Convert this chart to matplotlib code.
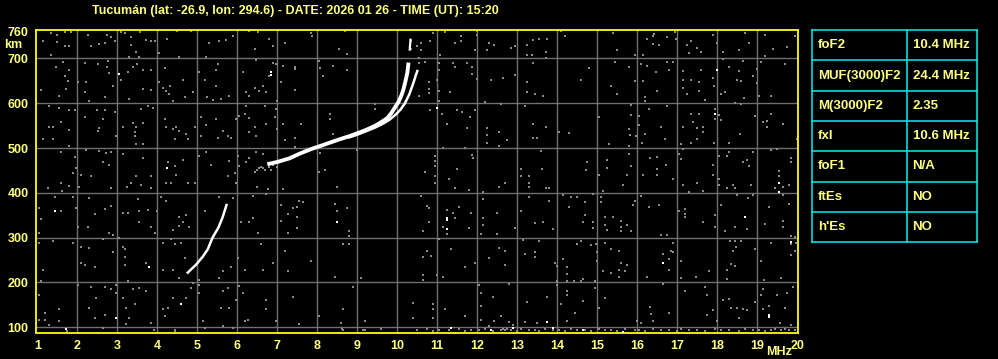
import matplotlib
matplotlib.use("Agg")
import matplotlib.pyplot as plt

plt.rcParams['font.family'] = ['Liberation Sans', 'DejaVu Sans']
plt.rcParams['font.weight'] = 'bold'

title = "Tucumán (lat: -26.9, lon: 294.6) - DATE: 2026 01 26 - TIME (UT): 15:20"

freq_ticks = list(range(1, 21))
height_ticks = [100, 200, 300, 400, 500, 600, 700, 760]

# F2 traces (ordinary / extraordinary), MHz vs km
o_mhz = [6.75, 7.0, 7.3, 7.57, 7.85, 8.15, 8.5, 8.78, 9.0, 9.23, 9.45, 9.6, 9.75,
         9.85, 9.95, 10.03, 10.1, 10.15, 10.2, 10.25, 10.28]
o_km = [464, 469, 477, 488, 498, 507, 518, 526, 533, 541, 550, 558, 567,
        578, 592, 603, 617, 630, 648, 668, 691]
o_top_mhz = [10.31, 10.33]
o_top_km = [720, 742]
x_mhz = [8.8, 9.0, 9.2, 9.45, 9.65, 9.8, 9.95, 10.08, 10.19, 10.3, 10.4, 10.46, 10.5]
x_km = [524, 530, 537, 546, 555, 563, 574, 586, 600, 620, 645, 662, 672]
# lower trace
f1_mhz = [4.76, 4.97, 5.13, 5.26, 5.38, 5.53, 5.63, 5.73]
f1_km = [222, 240, 257, 274, 300, 323, 345, 373]

# background echoes (gray)
noise_a = [(1.13, 740), (1.34, 757), (1.49, 753), (1.68, 760), (1.84, 760), (1.48, 736), (1.70, 729),
           (1.80, 727), (2.26, 753), (2.34, 729), (2.55, 732), (2.73, 753), (2.84, 747), (2.68, 735),
           (2.93, 740), (3.09, 760), (3.20, 757), (3.34, 747), (3.57, 760), (3.34, 730), (3.72, 742),
           (3.84, 740), (3.94, 740), (3.47, 714), (3.55, 703), (4.05, 712), (4.23, 744), (4.48, 762),
           (4.84, 762), (5.30, 735), (5.55, 738), (5.72, 742), (5.88, 750), (6.30, 762), (6.51, 760),
           (6.80, 744), (6.90, 729), (7.18, 735), (1.34, 708), (6.43, 721), (4.55, 703), (5.22, 703),
           (3.30, 703), (1.63, 693), (1.47, 682), (1.80, 675), (1.68, 662), (1.76, 650), (1.72, 632),
           (1.09, 630), (1.55, 617), (2.20, 691), (2.01, 648), (2.22, 647), (2.20, 626), (2.30, 606),
           (2.51, 688), (2.76, 695), (2.73, 682), (2.78, 668), (2.68, 613), (2.88, 639), (3.26, 669),
           (3.38, 682), (3.48, 688), (3.63, 675), (3.84, 675), (3.09, 653), (3.30, 609), (3.63, 632),
           (3.84, 630), (4.05, 648), (4.13, 635), (4.22, 628), (4.32, 638), (4.30, 621), (4.38, 606),
           (4.63, 653), (4.68, 613), (4.19, 678), (4.88, 626), (5.05, 670), (5.18, 653), (5.51, 688),
           (5.47, 675), (5.47, 638), (5.23, 613), (5.38, 608), (5.59, 609), (5.78, 617), (6.13, 670),
           (6.22, 626), (6.30, 617), (6.43, 635), (6.55, 628), (6.63, 639), (6.72, 626), (6.80, 662),
           (6.97, 688), (7.13, 684), (7.09, 647), (6.98, 606), (6.47, 697), (6.88, 691)]
noise_b = [(1.28, 594), (1.53, 590), (1.78, 585), (1.95, 585), (2.20, 570), (2.48, 585), (2.68, 585),
           (2.93, 581), (1.59, 559), (1.30, 548), (1.40, 548), (1.80, 541), (1.13, 520), (1.40, 520),
           (1.78, 505), (2.55, 544), (2.63, 566), (2.51, 538), (2.97, 527), (3.13, 548), (3.38, 557),
           (3.47, 548), (3.43, 536), (3.65, 556), (3.59, 587), (3.76, 593), (3.88, 590), (3.45, 527),
           (3.47, 509), (3.63, 509), (4.18, 566), (4.22, 548), (4.47, 548), (4.38, 542), (4.55, 538),
           (4.72, 531), (4.43, 520), (4.76, 520), (4.93, 548), (5.09, 570), (5.22, 551), (5.09, 527),
           (5.47, 566), (5.51, 523), (5.63, 538), (5.76, 526), (5.84, 523), (5.97, 566), (6.05, 572),
           (6.18, 576), (6.30, 568), (6.43, 548), (6.47, 526), (6.30, 536), (6.68, 594), (6.72, 553),
           (6.93, 570), (6.97, 587), (6.98, 542), (7.13, 553), (7.18, 518), (6.22, 594),
           (1.59, 491), (1.93, 481), (1.97, 456), (1.88, 445), (2.09, 439), (2.34, 438), (2.22, 496),
           (2.55, 494), (2.72, 490), (2.84, 491), (2.63, 468), (2.80, 462), (3.13, 486), (3.47, 438),
           (3.63, 479), (3.84, 438), (4.26, 469), (4.43, 460), (4.47, 441), (4.63, 473), (5.05, 482),
           (5.22, 491), (5.34, 462), (5.76, 438), (5.80, 471), (6.01, 482), (6.05, 460), (5.93, 445),
           (6.22, 469), (6.30, 479), (6.47, 491), (6.63, 486), (6.45, 447), (6.5, 452), (6.55, 455),
           (6.6, 458), (6.65, 455), (6.7, 450), (6.8, 458), (6.85, 452), (6.9, 462), (7.0, 458)]
noise_c = [(1.59, 423), (1.80, 416), (1.62, 405), (1.26, 411), (2.03, 414), (2.84, 411), (3.23, 414),
           (3.34, 421), (3.59, 418), (3.84, 411), (4.22, 423), (4.34, 421), (4.76, 423), (4.95, 421),
           (5.97, 423), (6.48, 414), (6.76, 408), (7.13, 408), (1.45, 391), (1.88, 390), (1.97, 367),
           (1.03, 367), (1.09, 341), (1.59, 360), (2.30, 388), (2.43, 352), (2.68, 364), (2.84, 371),
           (3.13, 356), (3.26, 356), (3.51, 386), (3.53, 360), (3.76, 361), (3.98, 360), (3.55, 334),
           (3.84, 323), (3.93, 311), (4.09, 390), (4.22, 382), (4.55, 346), (4.63, 336), (4.72, 351),
           (4.38, 317), (4.53, 326), (4.80, 323), (5.18, 360), (5.55, 391), (5.88, 388), (6.38, 393),
           (6.72, 397), (7.09, 373), (7.26, 352), (6.09, 334), (6.30, 334), (6.51, 311), (6.38, 343),
           (7.09, 337), (7.26, 311), (1.05, 311), (2.01, 324), (2.26, 324), (2.80, 311), (2.88, 306),
           (2.63, 296), (3.05, 299), (1.05, 289), (1.38, 293), (1.88, 289), (2.09, 279), (2.09, 244),
           (2.18, 240), (2.30, 278), (2.43, 235), (3.13, 279), (3.18, 274), (2.90, 267), (3.20, 257),
           (3.18, 240), (3.72, 244), (4.13, 289), (4.43, 287), (4.59, 289), (4.34, 296), (4.68, 255),
           (4.13, 227), (4.38, 227), (1.13, 227), (3.26, 203), (1.09, 203), (4.55, 211), (5.05, 205),
           (5.30, 282), (5.55, 211), (5.63, 226), (5.84, 235), (6.01, 255), (6.18, 229), (6.59, 285),
           (6.63, 227), (6.88, 244), (7.18, 270), (7.26, 226)]
noise_d = [(1.05, 173), (2.01, 194), (2.34, 190), (2.47, 166), (2.68, 190), (2.84, 185), (2.97, 194),
           (2.97, 177), (3.38, 185), (3.55, 188), (3.72, 181), (3.43, 152), (3.13, 166), (3.22, 143),
           (2.30, 142), (2.68, 127), (2.43, 121), (3.30, 121), (2.63, 99), (3.22, 108), (3.84, 110),
           (4.13, 140), (4.26, 143), (4.18, 125), (4.38, 166), (4.84, 187), (4.72, 166), (4.88, 199),
           (5.03, 194), (5.05, 177), (5.13, 114), (5.63, 181), (5.76, 188), (5.80, 143), (6.05, 192),
           (6.13, 177), (5.59, 143), (5.97, 160), (6.18, 114), (6.26, 117), (6.72, 162), (6.72, 140),
           (6.97, 114), (1.18, 132), (1.30, 106), (1.05, 117), (1.18, 117), (1.55, 140), (1.55, 114),
           (4.43, 95), (5.18, 99), (5.63, 102), (5.88, 99), (1.75, 92), (3.92, 93), (4.45, 91)]
noise_e = [(7.83, 757), (7.86, 750), (7.44, 680), (7.44, 676), (7.44, 630), (8.13, 660), (8.05, 695),
           (8.07, 678), (8.38, 684), (8.55, 721), (8.73, 710), (8.73, 675), (8.32, 576), (8.32, 566),
           (7.58, 553), (7.44, 523), (7.44, 503), (8.07, 490), (8.03, 447), (8.19, 451), (8.40, 531),
           (8.98, 496), (8.69, 762), (9.44, 598), (9.44, 588), (10.33, 740), (10.33, 721), (10.48, 729),
           (10.58, 735), (10.58, 718), (10.53, 700), (10.54, 691), (10.69, 693), (10.82, 740),
           (10.90, 757), (11.07, 708), (11.19, 760), (11.03, 691), (11.03, 675), (10.98, 653),
           (11.03, 628), (11.05, 606), (11.11, 576), (11.23, 553), (11.32, 626), (10.78, 648),
           (10.78, 633), (10.78, 624), (10.82, 585), (10.53, 617), (11.58, 751), (11.58, 740),
           (11.44, 735), (11.98, 762), (11.98, 753), (11.94, 718), (12.30, 735), (12.42, 730),
           (12.23, 718), (12.83, 723), (12.94, 727), (13.25, 730), (13.38, 742), (13.53, 744),
           (13.23, 708), (13.36, 708), (13.40, 691), (11.38, 690), (11.44, 680), (11.73, 691),
           (11.86, 680), (11.86, 665), (11.98, 654), (12.33, 653), (12.63, 656), (12.94, 663),
           (13.23, 648), (13.23, 626), (13.44, 621), (13.63, 617), (12.18, 603), (12.58, 598),
           (13.19, 594), (13.38, 553), (13.38, 523), (13.48, 523), (13.58, 494), (11.48, 585),
           (11.61, 581), (11.82, 570), (11.94, 585), (11.73, 544), (12.23, 544), (12.25, 529),
           (12.25, 512), (12.53, 535), (12.55, 505), (12.73, 518), (11.13, 501), (11.86, 484),
           (11.90, 477), (10.94, 482), (10.94, 471), (10.94, 459), (10.94, 438), (11.30, 432),
           (11.48, 453), (11.69, 501), (13.09, 454), (13.09, 438), (13.28, 438), (13.61, 454),
           (10.69, 447)]
noise_f = [(13.73, 744), (14.08, 762), (14.18, 750), (13.71, 715), (13.71, 700), (13.71, 546),
           (14.04, 536), (14.29, 533), (14.58, 653), (14.79, 679), (15.40, 757), (15.48, 720),
           (15.43, 693), (15.33, 639), (15.48, 621), (15.79, 680), (15.93, 650), (15.93, 708),
           (16.15, 708), (16.10, 688), (16.15, 650), (16.23, 684), (16.19, 613), (16.19, 606),
           (16.38, 751), (16.42, 755), (16.25, 744), (16.40, 732), (16.54, 730), (16.73, 747),
           (16.93, 760), (16.96, 744), (16.75, 693), (16.90, 693), (16.79, 675), (16.46, 669),
           (16.50, 628), (17.33, 738), (17.25, 730), (17.58, 715), (17.50, 723), (17.29, 712),
           (17.13, 673), (17.15, 653), (17.13, 635), (17.33, 653), (17.54, 648), (17.54, 628),
           (17.58, 675), (17.25, 621), (17.68, 608), (17.90, 753), (17.98, 735), (18.13, 715),
           (18.13, 699), (17.90, 656), (17.92, 639), (18.08, 621), (18.18, 626), (18.29, 680),
           (18.54, 720), (18.54, 673), (18.48, 653), (18.60, 650), (18.65, 695), (18.79, 735),
           (18.68, 757), (18.90, 662), (19.00, 676), (19.08, 693), (18.98, 645), (19.04, 617),
           (19.18, 753), (19.18, 706), (19.38, 721), (19.33, 617), (19.68, 688), (19.73, 725),
           (19.93, 750), (18.43, 600), (18.60, 598), (18.67, 612), (17.93, 588), (18.04, 573),
           (17.93, 565), (18.08, 563), (17.33, 576), (17.54, 576), (17.38, 559), (17.48, 544),
           (17.63, 548), (17.15, 546), (17.65, 536), (18.57, 531), (18.93, 571), (19.13, 559),
           (19.23, 561), (19.23, 546), (19.33, 576), (19.63, 553), (19.98, 520), (15.83, 596),
           (15.85, 573), (15.79, 542), (15.82, 529), (15.96, 527), (16.04, 572), (16.04, 551),
           (16.29, 588), (16.18, 531), (16.58, 548), (16.73, 593), (16.68, 520), (16.11, 512),
           (15.29, 509), (15.04, 570), (15.79, 505), (17.04, 486), (17.08, 475), (17.08, 509),
           (17.15, 499), (18.04, 482), (18.23, 482), (18.29, 491), (17.90, 462), (17.90, 439),
           (18.04, 432), (16.90, 432), (16.71, 462), (16.50, 453), (16.50, 439), (16.48, 481),
           (16.32, 479), (16.13, 441), (15.85, 460), (15.79, 486), (15.73, 441), (15.23, 474),
           (15.23, 456), (14.73, 468), (14.71, 451), (15.04, 441), (18.65, 469), (18.73, 474),
           (18.79, 460), (18.90, 491), (19.33, 496), (19.48, 499), (19.54, 449), (19.54, 438),
           (19.83, 479), (19.83, 469), (17.48, 520), (17.33, 512), (18.29, 512), (17.92, 511)]
noise_g = [(8.48, 414), (7.53, 382), (7.63, 379), (7.48, 369), (7.38, 366), (7.48, 346), (7.48, 321),
           (8.44, 376), (8.48, 360), (8.73, 366), (8.80, 315), (8.80, 304), (8.63, 285), (8.80, 285),
           (7.83, 248), (8.44, 212), (9.08, 209), (8.88, 190), (7.38, 167), (8.03, 125), (8.63, 140),
           (8.58, 110), (8.61, 97), (9.19, 115), (9.19, 95), (10.94, 423), (11.44, 411), (11.80, 406),
           (12.13, 401), (12.13, 386), (12.55, 414), (12.69, 423), (13.30, 423), (13.30, 414),
           (13.30, 391), (10.58, 393), (10.73, 371), (10.80, 367), (11.23, 361), (11.38, 356),
           (11.53, 369), (11.44, 343), (11.83, 356), (10.80, 334), (10.65, 314), (11.13, 323),
           (11.23, 308), (11.80, 321), (12.13, 345), (12.15, 329), (12.08, 308), (12.48, 356),
           (12.50, 309), (13.08, 360), (12.94, 321), (13.15, 294), (13.44, 332), (13.63, 334),
           (13.53, 293), (11.03, 296), (10.73, 270), (10.83, 259), (10.63, 257), (11.33, 274),
           (11.69, 235), (11.94, 244), (12.30, 255), (12.55, 276), (12.69, 270), (12.69, 240),
           (13.19, 263), (13.44, 267), (13.44, 257), (10.63, 217), (10.63, 205), (10.98, 217),
           (11.13, 212), (12.03, 194), (12.08, 177), (12.08, 147), (12.08, 117), (12.38, 167),
           (12.80, 196), (13.23, 157), (12.42, 115), (12.58, 125), (12.80, 112), (12.90, 105),
           (13.19, 112), (13.48, 110), (10.38, 155), (10.38, 121), (10.90, 152), (10.90, 140),
           (10.90, 121), (11.19, 140), (11.69, 125), (12.30, 102), (7.53, 108)]
noise_h = [(13.71, 411), (13.79, 411), (14.13, 396), (14.33, 391), (14.48, 391), (14.90, 397),
           (15.08, 391), (15.08, 379), (14.29, 369), (14.68, 379), (14.68, 351), (14.65, 334),
           (14.90, 336), (14.90, 321), (13.90, 319), (13.79, 382), (15.15, 405), (15.65, 418),
           (16.08, 393), (15.93, 382), (15.90, 373), (16.29, 369), (16.54, 373), (15.18, 346),
           (15.38, 346), (15.58, 337), (15.60, 323), (15.73, 329), (15.85, 314), (15.60, 314),
           (15.18, 329), (15.23, 317), (16.58, 306), (16.73, 306), (17.15, 418), (17.29, 403),
           (17.48, 423), (17.63, 405), (17.04, 360), (17.18, 364), (17.18, 354), (17.18, 346),
           (17.65, 334), (17.93, 351), (17.93, 324), (18.04, 418), (18.08, 373), (18.23, 411),
           (18.40, 418), (18.43, 411), (18.48, 396), (18.77, 388), (18.83, 418), (18.90, 396),
           (18.73, 319), (18.43, 324), (18.18, 315), (19.18, 330), (19.29, 369), (19.43, 411),
           (19.65, 414), (19.65, 396), (19.79, 418), (19.79, 376), (19.63, 337), (19.63, 324),
           (19.83, 304), (19.93, 302), (19.83, 285), (19.93, 270), (19.83, 261), (14.50, 285),
           (14.58, 293), (14.83, 284), (14.96, 285), (15.00, 267), (14.98, 248), (15.18, 289),
           (15.33, 274), (15.54, 270), (15.54, 227), (15.58, 244), (15.75, 239), (15.68, 226),
           (15.54, 212), (15.15, 226), (15.33, 222), (13.93, 244), (14.00, 237), (14.13, 252),
           (14.23, 235), (14.23, 220), (14.23, 203), (14.00, 203), (14.00, 194), (14.42, 203),
           (14.58, 203), (14.65, 207), (14.93, 203), (14.93, 187), (16.25, 212), (16.63, 263),
           (16.79, 252), (16.85, 270), (16.90, 267), (16.88, 289), (16.79, 229), (17.08, 248),
           (17.08, 209), (17.46, 212), (17.79, 226), (18.23, 229), (18.23, 207), (18.32, 293),
           (18.43, 293), (18.46, 279), (18.38, 270), (18.33, 242), (18.43, 237), (18.60, 293),
           (18.93, 274), (19.08, 248), (19.17, 205), (19.35, 289), (19.58, 211), (19.96, 289),
           (13.73, 167), (14.08, 152), (14.23, 181), (14.23, 172), (14.43, 132), (14.23, 115),
           (14.63, 158), (15.04, 143), (15.18, 166), (16.32, 145), (16.33, 129), (16.38, 115),
           (16.00, 115), (16.08, 110), (16.65, 196), (16.79, 132), (17.18, 181), (17.68, 190),
           (17.73, 172), (17.73, 127), (17.88, 138), (17.98, 115), (18.15, 161), (18.29, 164),
           (18.33, 143), (18.50, 143), (18.65, 140), (18.73, 138), (18.54, 121), (18.93, 157),
           (19.13, 185), (19.08, 173), (19.15, 140), (19.29, 147), (19.48, 172), (19.68, 143),
           (19.73, 176), (19.90, 190), (19.85, 106), (19.57, 110)]
# clutter strip just above the bottom edge
floor_mhz = [8.65, 9.15, 9.6, 10.5, 10.75, 10.9, 11.05, 11.3, 11.55, 11.7, 11.85, 12.05, 12.2, 12.4,
             12.6, 12.65, 12.7, 12.75, 12.85, 13.0, 13.1, 13.3, 13.45, 13.55, 13.7, 13.9, 14.05, 14.2,
             14.35, 14.5, 14.7, 14.85, 15.05, 15.2, 15.35, 15.5, 15.7, 15.95, 16.05, 16.2, 16.4, 16.6,
             16.8, 17.0, 17.1, 17.3, 17.5, 17.7, 17.95, 18.1, 18.3, 18.55, 18.7, 18.9, 19.05, 19.2,
             19.35, 19.45, 19.6, 19.7, 19.8, 19.95]
floor_km = [95, 93, 96, 93, 97, 92, 95, 93, 96, 92, 94, 93, 96, 92, 93, 96, 93, 96, 94, 92, 96,
            93, 95, 92, 97, 93, 95, 92, 96, 93, 95, 92, 96, 93, 95, 92, 97, 93, 95, 92, 96, 93, 95,
            92, 96, 93, 95, 92, 96, 93, 95, 92, 96, 93, 95, 92, 93, 96, 93, 96, 93, 95]
# strong isolated echoes (white)
spots = [(3.05, 665), (6.84, 669), (6.84, 664), (4.23, 456), (10.98, 590), (17.98, 675),
         (17.93, 576), (1.43, 360), (3.80, 235), (2.97, 121), (4.59, 152), (1.72, 96),
         (8.48, 334), (11.23, 343), (11.23, 339), (11.23, 319), (11.33, 99), (12.88, 99),
         (18.68, 346), (19.83, 291), (16.64, 244), (19.29, 127), (19.29, 123), (13.73, 112),
         (13.90, 99), (14.65, 93), (15.65, 90), (19.54, 421), (19.54, 403), (12.35, 95)]

params = ["foF2", "MUF(3000)F2", "M(3000)F2", "fxI", "foF1", "ftEs", "h'Es"]
values = ["10.4 MHz", "24.4 MHz", "2.35", "10.6 MHz", "N/A", "NO", "NO"]

yellow = "#ffff00"
text_yellow = "#ffff80"
cyan = "#00e0e0"

fig = plt.figure(figsize=(9.98, 3.59), dpi=100, facecolor="black")
ax = fig.add_axes([0.0356, 0.0716, 0.7635, 0.8462], facecolor="black")
ax.set_xlim(0.955, 20.005)
ax.set_ylim(86.6, 764.7)

for f in freq_ticks[1:-1]:
    ax.axvline(f, color="#707070", lw=1.0, zorder=1)
for h in height_ticks[:-1]:
    ax.axhline(h, color="#707070", lw=1.0, zorder=1)

for grp in [noise_a, noise_b, noise_c, noise_d, noise_e, noise_f, noise_g, noise_h]:
    ax.scatter([p[0] for p in grp], [p[1] for p in grp], marker="s", s=2.6,
               color="#8c8c8c", linewidths=0, zorder=2)
ax.scatter(floor_mhz, floor_km, marker="s", s=4, color="#8c8c8c", linewidths=0, zorder=2)
ax.scatter([p[0] for p in spots], [p[1] for p in spots], marker="s", s=2.6,
           color="white", linewidths=0, zorder=3)

ax.plot(o_mhz, o_km, color="white", lw=2.8, solid_capstyle="butt", zorder=4)
ax.plot(o_top_mhz, o_top_km, color="white", lw=1.6, zorder=4)
ax.plot(x_mhz, x_km, color="white", lw=1.8, zorder=4)
ax.plot(f1_mhz, f1_km, color="white", lw=1.8, zorder=4)

for s in ax.spines.values():
    s.set_color(yellow)
    s.set_linewidth(1.3)
ax.set_xticks(freq_ticks)
ax.set_yticks(height_ticks)
ax.tick_params(length=0, colors=text_yellow, labelsize=9, pad=5)
for lab in ax.get_xticklabels() + ax.get_yticklabels():
    lab.set_fontweight("bold")

fig.text(0.2955, 0.985, title, color=text_yellow, fontsize=9, fontweight="bold",
         ha="center", va="top")
fig.text(0.013, 0.875, "km", color=text_yellow, fontsize=9, fontweight="bold", ha="center", va="center")
fig.text(0.781, 0.02, "MHz", color=text_yellow, fontsize=9, fontweight="bold", ha="center", va="center")

# parameter table
tab = fig.add_axes([0.8136, 0.325, 0.1653, 0.5914], facecolor="black")
tab.set_xlim(0, 1)
tab.set_ylim(len(params), 0)
tab.axis("off")
for i in range(len(params) + 1):
    tab.plot([0, 1], [i, i], color=cyan, lw=1.2, clip_on=False)
tab.plot([0, 0], [0, len(params)], color=cyan, lw=1.2, clip_on=False)
tab.plot([1, 1], [0, len(params)], color=cyan, lw=1.2, clip_on=False)
tab.plot([0.576, 0.576], [0, len(params)], color=cyan, lw=1.2, clip_on=False)
for i, (p, v) in enumerate(zip(params, values)):
    tab.text(0.035, i + 0.5, p, color=text_yellow, fontsize=9.5, fontweight="bold", va="center")
    tab.text(0.61, i + 0.5, v, color=text_yellow, fontsize=9.5, fontweight="bold", va="center")

fig.savefig("out.png", dpi=100, facecolor="black")
